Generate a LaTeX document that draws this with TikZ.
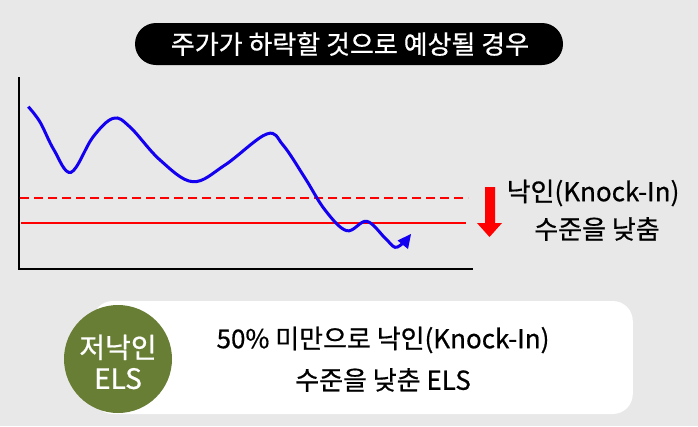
\documentclass[tikz,border=0pt]{standalone}
\usepackage{fontspec}
\setmainfont{Noto Sans CJK KR}
\newfontfamily\kr[FakeBold=0.6]{Noto Sans CJK KR}
\definecolor{bggray}{RGB}{232,232,232}
\definecolor{olive}{RGB}{104,126,52}
\definecolor{curveblue}{RGB}{20,0,240}
\tikzset{
  axisline/.style={line width=2pt, black},
  levelline/.style={line width=2pt, red},
  pricecurve/.style={line width=3pt, curveblue},
  lbl/.style={font=\kr, inner sep=0pt, align=center},
}
\begin{document}
\begin{tikzpicture}[x=1pt,y=-1pt]
\fill[bggray] (0,0) rectangle (698,426);
\useasboundingbox (0,0) rectangle (698,426);
% title
\node[fill=black, rounded corners=21pt, minimum width=428pt, minimum height=42pt, inner sep=0pt] (title) at (349,44) {};
\node[lbl, text=white, font=\kr\fontsize{26}{30}\selectfont] (titletext) at (350,44) {주가가 하락할 것으로 예상될 경우};
% axes
\coordinate (ytop) at (19,77);
\coordinate (orig) at (19,269);
\coordinate (xend) at (473,269);
\draw[axisline] (ytop) -- (orig) -- (xend);
% levels
\coordinate (d1) at (20,198); \coordinate (d2) at (468,198);
\coordinate (s1) at (21,223); \coordinate (s2) at (466,223);
\draw[levelline, dash pattern=on 9pt off 5pt] (d1) -- (d2);
\draw[levelline] (s1) -- (s2);
% curve
\draw[pricecurve] plot[smooth, tension=0.6] coordinates {
 (28.3,106.7) (40,122) (54,150) (71,172.3) (93,137) (113.3,118.3) (130,127) (160,160) (192.7,181.7) (225,165) (266.7,134) (283,145) (305,178) (325,210) (346.7,230.7) (366.7,221.3) (385,238) (395,247.3) (403,243)};
\coordinate (tip) at (411,234);
\fill[curveblue] (tip) -- (397.5,240.5) -- (408,249) -- cycle;
% red arrow
\fill[red] (485,187) -- (495,187) -- (495,223) -- (502,223) -- (489.5,237) -- (477,223) -- (485,223) -- cycle;
\node[lbl, font=\kr\fontsize{26}{30}\selectfont] (lvl1) at (593,193) {낙인(Knock-In)};
\node[lbl, font=\kr\fontsize{26}{30}\selectfont] (lvl2) at (597,229) {수준을 낮춤};
% bottom box
\node[fill=white, rounded corners=20pt, minimum width=540pt, minimum height=113pt, inner sep=0pt, anchor=east] (box) at (633,357.5) {};
\node[circle, fill=olive, minimum size=108pt, inner sep=0pt] (badge) at (118,359) {};
\node[lbl, text=white, font=\kr\fontsize{28}{34}\selectfont] (badgetext) at (118,362) {저낙인\\[-3pt]ELS};
\node[lbl, font=\kr\fontsize{26}{30}\selectfont] (desc1) at (383,340) {50\% 미만으로 낙인(Knock-In)};
\node[lbl, font=\kr\fontsize{26}{30}\selectfont] (desc2) at (383,380) {수준을 낮춘 ELS};
\end{tikzpicture}
\end{document}
